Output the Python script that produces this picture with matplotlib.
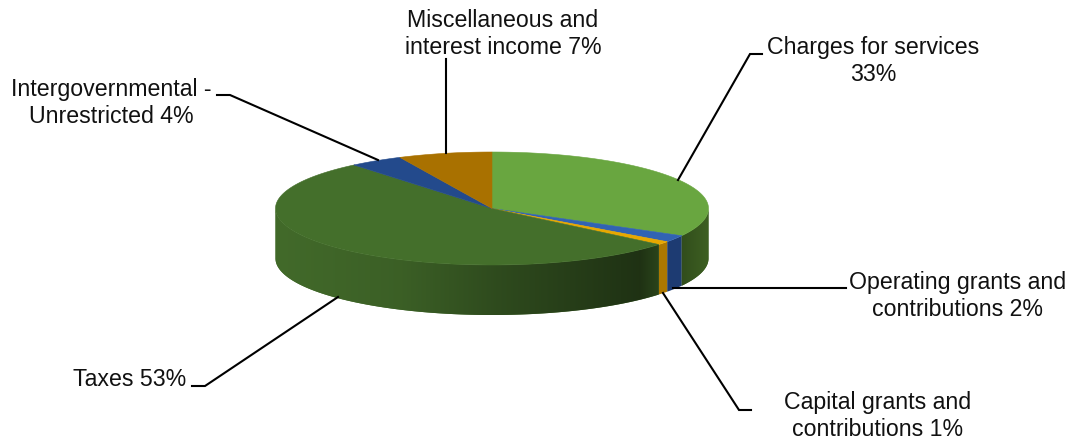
import numpy as np
import matplotlib
matplotlib.use("Agg")
import matplotlib.pyplot as plt
from matplotlib.patches import Polygon
from matplotlib.colors import to_rgb

plt.rcParams['font.family'] = ['Liberation Sans', 'DejaVu Sans']

# revenue shares in percent, clockwise from 12 o'clock
categories = ["Charges for services", "Operating grants and contributions",
              "Capital grants and contributions", "Taxes",
              "Intergovernmental - Unrestricted", "Miscellaneous and interest income"]
shares = [33, 2, 1, 53, 4, 7]
top_colors = ["#69a640", "#3163b3", "#e8a800", "#446f2b", "#234a8c", "#a97100"]
side_colors = ["#3d5f22", "#1d3b72", "#ad7800", "#426a2a", "#1d3b72", "#7d5400"]

label_text = ["Charges for services\n33%", "Operating grants and\ncontributions 2%",
              "Capital grants and\ncontributions 1%", "Taxes 53%",
              "Intergovernmental -\nUnrestricted 4%",
              "Miscellaneous and\ninterest income 7%"]
label_pos = [(873, 61), (958, 296), (878, 416), (130, 380), (111, 103), (503, 34)]
leaders = [[(678, 180), (750, 54), (762, 54)],
           [(673, 288), (846, 288)],
           [(663, 293), (739, 410), (751, 410)],
           [(338, 297), (205, 386), (192, 386)],
           [(378, 160), (230, 95), (217, 95)],
           [(446, 153), (446, 59)]]

# pie geometry in pixels
cx, cy = 492, 208.5
rx, ry = 216.5, 56.5
depth = 50


def rim(theta):
    return cx + rx * np.cos(theta), cy - ry * np.sin(theta)


fig = plt.figure(figsize=(10.77, 4.43), dpi=100)
ax = fig.add_axes([0, 0, 1, 1])

fracs = np.array(shares) / sum(shares)
edges = np.pi / 2 - 2 * np.pi * np.concatenate([[0], np.cumsum(fracs)])

# side wall darkens from the left edge towards the right front
shade_x = [276, 400, 500, 640, 672, 708]
shade_v = [1.0, 0.90, 0.70, 0.47, 0.75, 1.0]

for i in range(len(shares)):
    start, stop = edges[i], edges[i + 1]
    # only the front half of the rim is visible (sin < 0)
    for a, b in [(start, stop), (start + 2 * np.pi, stop + 2 * np.pi)]:
        lo, hi = max(b, -np.pi), min(a, 0)
        if hi <= lo:
            continue
        t = np.linspace(lo, hi, 200)
        x, y = rim(t)
        wall = Polygon(np.c_[np.r_[x, x[::-1]], np.r_[y, y[::-1] + depth]],
                       closed=True, fc=side_colors[i], ec=side_colors[i],
                       lw=0, transform=ax.transData)
        ax.add_patch(wall)
        if i in (1, 2):
            continue
        # horizontal gradient clipped to the wall outline
        px = np.arange(int(x.min()) - 1, int(x.max()) + 3)
        strip = np.array(to_rgb(side_colors[i]))[None, :] * np.interp(px, shade_x, shade_v)[:, None]
        im = ax.imshow(strip[None, :, :], aspect="auto", interpolation="bilinear",
                       extent=(px[0], px[-1], 330, 150), zorder=1.5)
        im.set_clip_path(wall)

for i in range(len(shares)):
    t = np.linspace(edges[i], edges[i + 1], 200)
    x, y = rim(t)
    ax.fill(np.r_[cx, x], np.r_[cy, y], color=top_colors[i], lw=0.4, zorder=3)

for pts in leaders:
    xs, ys = zip(*pts)
    ax.plot(xs, ys, color="black", lw=1.5, solid_joinstyle="miter", zorder=4)

for txt, (tx, ty) in zip(label_text, label_pos):
    ax.text(tx, ty, txt, ha="center", va="center", fontsize=16.7,
            color="#111111", linespacing=1.27, zorder=5)

ax.set_xlim(0, 1077)
ax.set_ylim(443, 0)
ax.axis("off")

fig.savefig("out.png", dpi=100)
